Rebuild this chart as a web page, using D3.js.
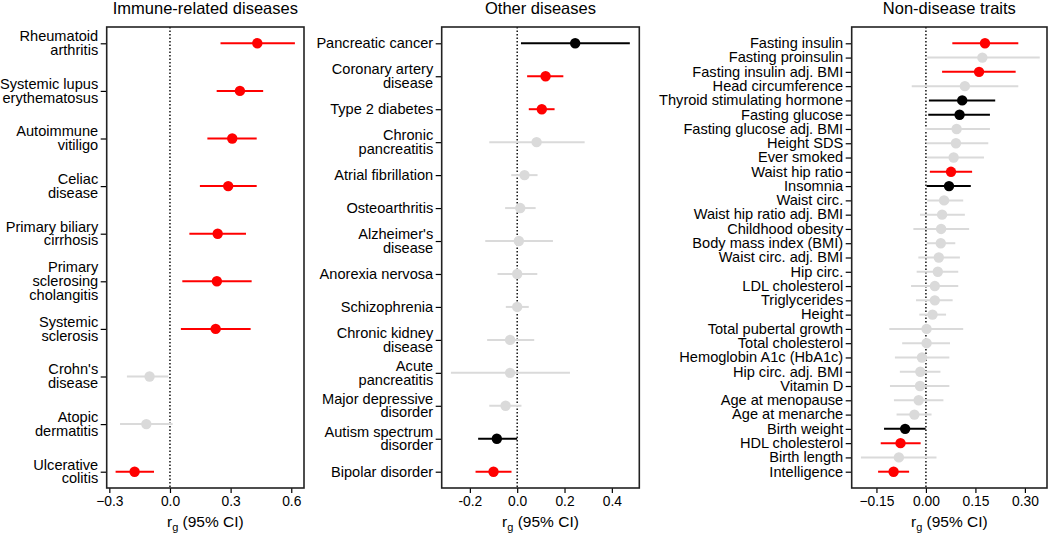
<!DOCTYPE html>
<html>
<head>
<meta charset="utf-8">
<script src="https://cdn.jsdelivr.net/npm/d3@7"></script>
<style>
  body { margin: 0; background: #fff; }
  svg { display: block; font-family: "Liberation Sans", Arial, sans-serif; }
</style>
</head>
<body>
<svg id="chart" width="1050" height="534"></svg>
<script>
// ---------------- Data ----------------
// Panel 1: Immune-related diseases
const immuneLabels = ["Rheumatoid\narthritis", "Systemic lupus\nerythematosus", "Autoimmune\nvitiligo", "Celiac\ndisease", "Primary biliary\ncirrhosis", "Primary\nsclerosing\ncholangitis", "Systemic\nsclerosis", "Crohn's\ndisease", "Atopic\ndermatitis", "Ulcerative\ncolitis"];
const immuneRg   = [0.432, 0.346, 0.308, 0.288, 0.236, 0.232, 0.226, -0.101, -0.117, -0.175];
const immuneLow  = [0.250, 0.231, 0.185, 0.148, 0.096, 0.061, 0.054, -0.213, -0.247, -0.269];
const immuneHigh = [0.618, 0.461, 0.429, 0.429, 0.376, 0.404, 0.399, -0.008, 0.013, -0.079];
const immuneSig  = ["red", "red", "red", "red", "red", "red", "red", "grey", "grey", "red"];
const immuneTicks = [-0.3, 0.0, 0.3, 0.6];
const immuneTickLabels = ["\u22120.3", "0.0", "0.3", "0.6"];

// Panel 2: Other diseases
const otherLabels = ["Pancreatic cancer", "Coronary artery\ndisease", "Type 2 diabetes", "Chronic\npancreatitis", "Atrial fibrillation", "Osteoarthritis", "Alzheimer's\ndisease", "Anorexia nervosa", "Schizophrenia", "Chronic kidney\ndisease", "Acute\npancreatitis", "Major depressive\ndisorder", "Autism spectrum\ndisorder", "Bipolar disorder"];
const otherRg   = [0.245, 0.120, 0.104, 0.082, 0.031, 0.013, 0.007, 0.000, 0.000, -0.030, -0.030, -0.049, -0.086, -0.100];
const otherLow  = [0.016, 0.042, 0.049, -0.118, -0.025, -0.051, -0.135, -0.083, -0.048, -0.127, -0.280, -0.118, -0.165, -0.176];
const otherHigh = [0.476, 0.195, 0.158, 0.285, 0.086, 0.078, 0.151, 0.085, 0.049, 0.072, 0.223, 0.018, 0.000, -0.024];
const otherSig  = ["black", "red", "red", "grey", "grey", "grey", "grey", "grey", "grey", "grey", "grey", "grey", "black", "red"];
const otherTicks = [-0.2, 0.0, 0.2, 0.4];
const otherTickLabels = ["-0.2", "0.0", "0.2", "0.4"];

// Panel 3: Non-disease traits
const traitLabels = ["Fasting insulin", "Fasting proinsulin", "Fasting insulin adj. BMI", "Head circumference", "Thyroid stimulating hormone", "Fasting glucose", "Fasting glucose adj. BMI", "Height SDS", "Ever smoked", "Waist hip ratio", "Insomnia", "Waist circ.", "Waist hip ratio adj. BMI", "Childhood obesity", "Body mass index (BMI)", "Waist circ. adj. BMI", "Hip circ.", "LDL cholesterol", "Triglycerides", "Height", "Total pubertal growth", "Total cholesterol", "Hemoglobin A1c (HbA1c)", "Hip circ. adj. BMI", "Vitamin D", "Age at menopause", "Age at menarche", "Birth weight", "HDL cholesterol", "Birth length", "Intelligence"];
const traitRg   = [0.179, 0.171, 0.161, 0.118, 0.110, 0.102, 0.093, 0.091, 0.084, 0.076, 0.070, 0.055, 0.049, 0.046, 0.045, 0.039, 0.036, 0.027, 0.027, 0.020, 0.002, 0.002, -0.012, -0.017, -0.018, -0.022, -0.035, -0.063, -0.077, -0.082, -0.098];
const traitLow  = [0.080, 0.004, 0.049, -0.043, 0.009, 0.007, -0.003, 0.002, 0.004, 0.012, 0.002, 0.004, -0.018, -0.038, 0.002, -0.023, -0.028, -0.045, -0.030, -0.020, -0.111, -0.072, -0.094, -0.079, -0.109, -0.097, -0.089, -0.127, -0.137, -0.197, -0.145];
const traitHigh = [0.280, 0.345, 0.272, 0.280, 0.210, 0.194, 0.194, 0.189, 0.176, 0.140, 0.136, 0.113, 0.118, 0.131, 0.089, 0.103, 0.098, 0.098, 0.081, 0.061, 0.113, 0.073, 0.071, 0.044, 0.071, 0.053, 0.017, -0.001, -0.016, 0.032, -0.051];
const traitSig  = ["red", "grey", "red", "grey", "black", "black", "grey", "grey", "grey", "red", "black", "grey", "grey", "grey", "grey", "grey", "grey", "grey", "grey", "grey", "grey", "grey", "grey", "grey", "grey", "grey", "grey", "black", "red", "grey", "red"];
const traitTicks = [-0.15, 0.0, 0.15, 0.30];
const traitTickLabels = ["\u22120.15", "0.00", "0.15", "0.30"];

const panelTitles = ["Immune-related diseases", "Other diseases", "Non-disease traits"];

// ---------------- Drawing ----------------
const colorMap = { red: "#FF0000", black: "#000000", grey: "#DADADA" };
const svg = d3.select("#chart");
const plotTop = 27, plotBottom = 488, rowPad = 16.3;

const panels = [
  { title: panelTitles[0], labels: immuneLabels, rg: immuneRg, lo: immuneLow, hi: immuneHigh, sig: immuneSig,
    ticks: immuneTicks, tickLabels: immuneTickLabels, x0: 106.7, x1: 304, domain: [-0.313, 0.663] },
  { title: panelTitles[1], labels: otherLabels, rg: otherRg, lo: otherLow, hi: otherHigh, sig: otherSig,
    ticks: otherTicks, tickLabels: otherTickLabels, x0: 441.7, x1: 639.3, domain: [-0.319, 0.516] },
  { title: panelTitles[2], labels: traitLabels, rg: traitRg, lo: traitLow, hi: traitHigh, sig: traitSig,
    ticks: traitTicks, tickLabels: traitTickLabels, x0: 851.7, x1: 1047, domain: [-0.225, 0.367] }
];

panels.forEach(p => {
  const x = d3.scaleLinear().domain(p.domain).range([p.x0, p.x1]);
  const y = d3.scalePoint().domain(d3.range(p.labels.length)).range([plotTop + rowPad, plotBottom - rowPad]);
  const g = svg.append("g");

  // Title
  g.append("text")
    .attr("x", (p.x0 + p.x1) / 2).attr("y", 13.5)
    .attr("text-anchor", "middle")
    .style("font-size", "16.5px").attr("fill", "#000")
    .text(p.title);

  // Zero line
  g.append("line")
    .attr("x1", x(0)).attr("x2", x(0))
    .attr("y1", plotTop).attr("y2", plotBottom)
    .attr("stroke", "#000").attr("stroke-width", 1.4)
    .attr("stroke-dasharray", "1.5,2");

  // CI lines and points
  const rows = d3.range(p.labels.length);
  g.selectAll("line.ci").data(rows).join("line")
    .attr("class", "ci")
    .attr("x1", i => x(p.lo[i])).attr("x2", i => x(p.hi[i]))
    .attr("y1", i => y(i)).attr("y2", i => y(i))
    .attr("stroke", i => colorMap[p.sig[i]])
    .attr("stroke-width", 2);
  g.selectAll("circle.pt").data(rows).join("circle")
    .attr("class", "pt")
    .attr("cx", i => x(p.rg[i])).attr("cy", i => y(i))
    .attr("r", 5.2)
    .attr("fill", i => colorMap[p.sig[i]]);

  // Left axis (ticks only) + multiline labels
  const yAxis = d3.axisLeft(y).tickSize(6).tickFormat("");
  const ya = g.append("g").attr("transform", `translate(${p.x0},0)`).call(yAxis);
  ya.select(".domain").remove();
  ya.selectAll(".tick line").attr("stroke", "#000").attr("stroke-width", 1.2);

  const lh = 13.8;
  rows.forEach(i => {
    const lines = p.labels[i].split("\n");
    const n = lines.length;
    const t = g.append("text")
      .attr("text-anchor", "end")
      .style("font-size", "14.6px").attr("fill", "#000");
    lines.forEach((ln, k) => {
      t.append("tspan")
        .attr("x", p.x0 - 8.5)
        .attr("y", y(i) + (k - (n - 1) / 2) * lh + 4.8)
        .text(ln);
    });
  });

  // Bottom axis
  const xAxis = d3.axisBottom(x).tickValues(p.ticks)
    .tickFormat((d, i) => p.tickLabels[i]).tickSize(5).tickPadding(3);
  const xa = g.append("g").attr("transform", `translate(0,${plotBottom})`).call(xAxis);
  xa.select(".domain").remove();
  xa.selectAll(".tick line").attr("stroke", "#000").attr("stroke-width", 1.2);
  xa.selectAll(".tick text").style("font-size", "13.8px").attr("fill", "#000")
    .style("font-family", "'Liberation Sans', Arial, sans-serif");

  // Frame
  g.append("rect")
    .attr("x", p.x0).attr("y", plotTop)
    .attr("width", p.x1 - p.x0).attr("height", plotBottom - plotTop)
    .attr("fill", "none").attr("stroke", "#222").attr("stroke-width", 1.6);

  // Axis title r_g (95% CI)
  const at = g.append("text")
    .attr("x", (p.x0 + p.x1) / 2).attr("y", 526.5)
    .attr("text-anchor", "middle")
    .style("font-size", "15.5px").attr("fill", "#000");
  at.append("tspan").text("r");
  at.append("tspan").attr("dy", 4.5).style("font-size", "11px").text("g");
  at.append("tspan").attr("dy", -4.5).text(" (95% CI)");
});
</script>
</body>
</html>
